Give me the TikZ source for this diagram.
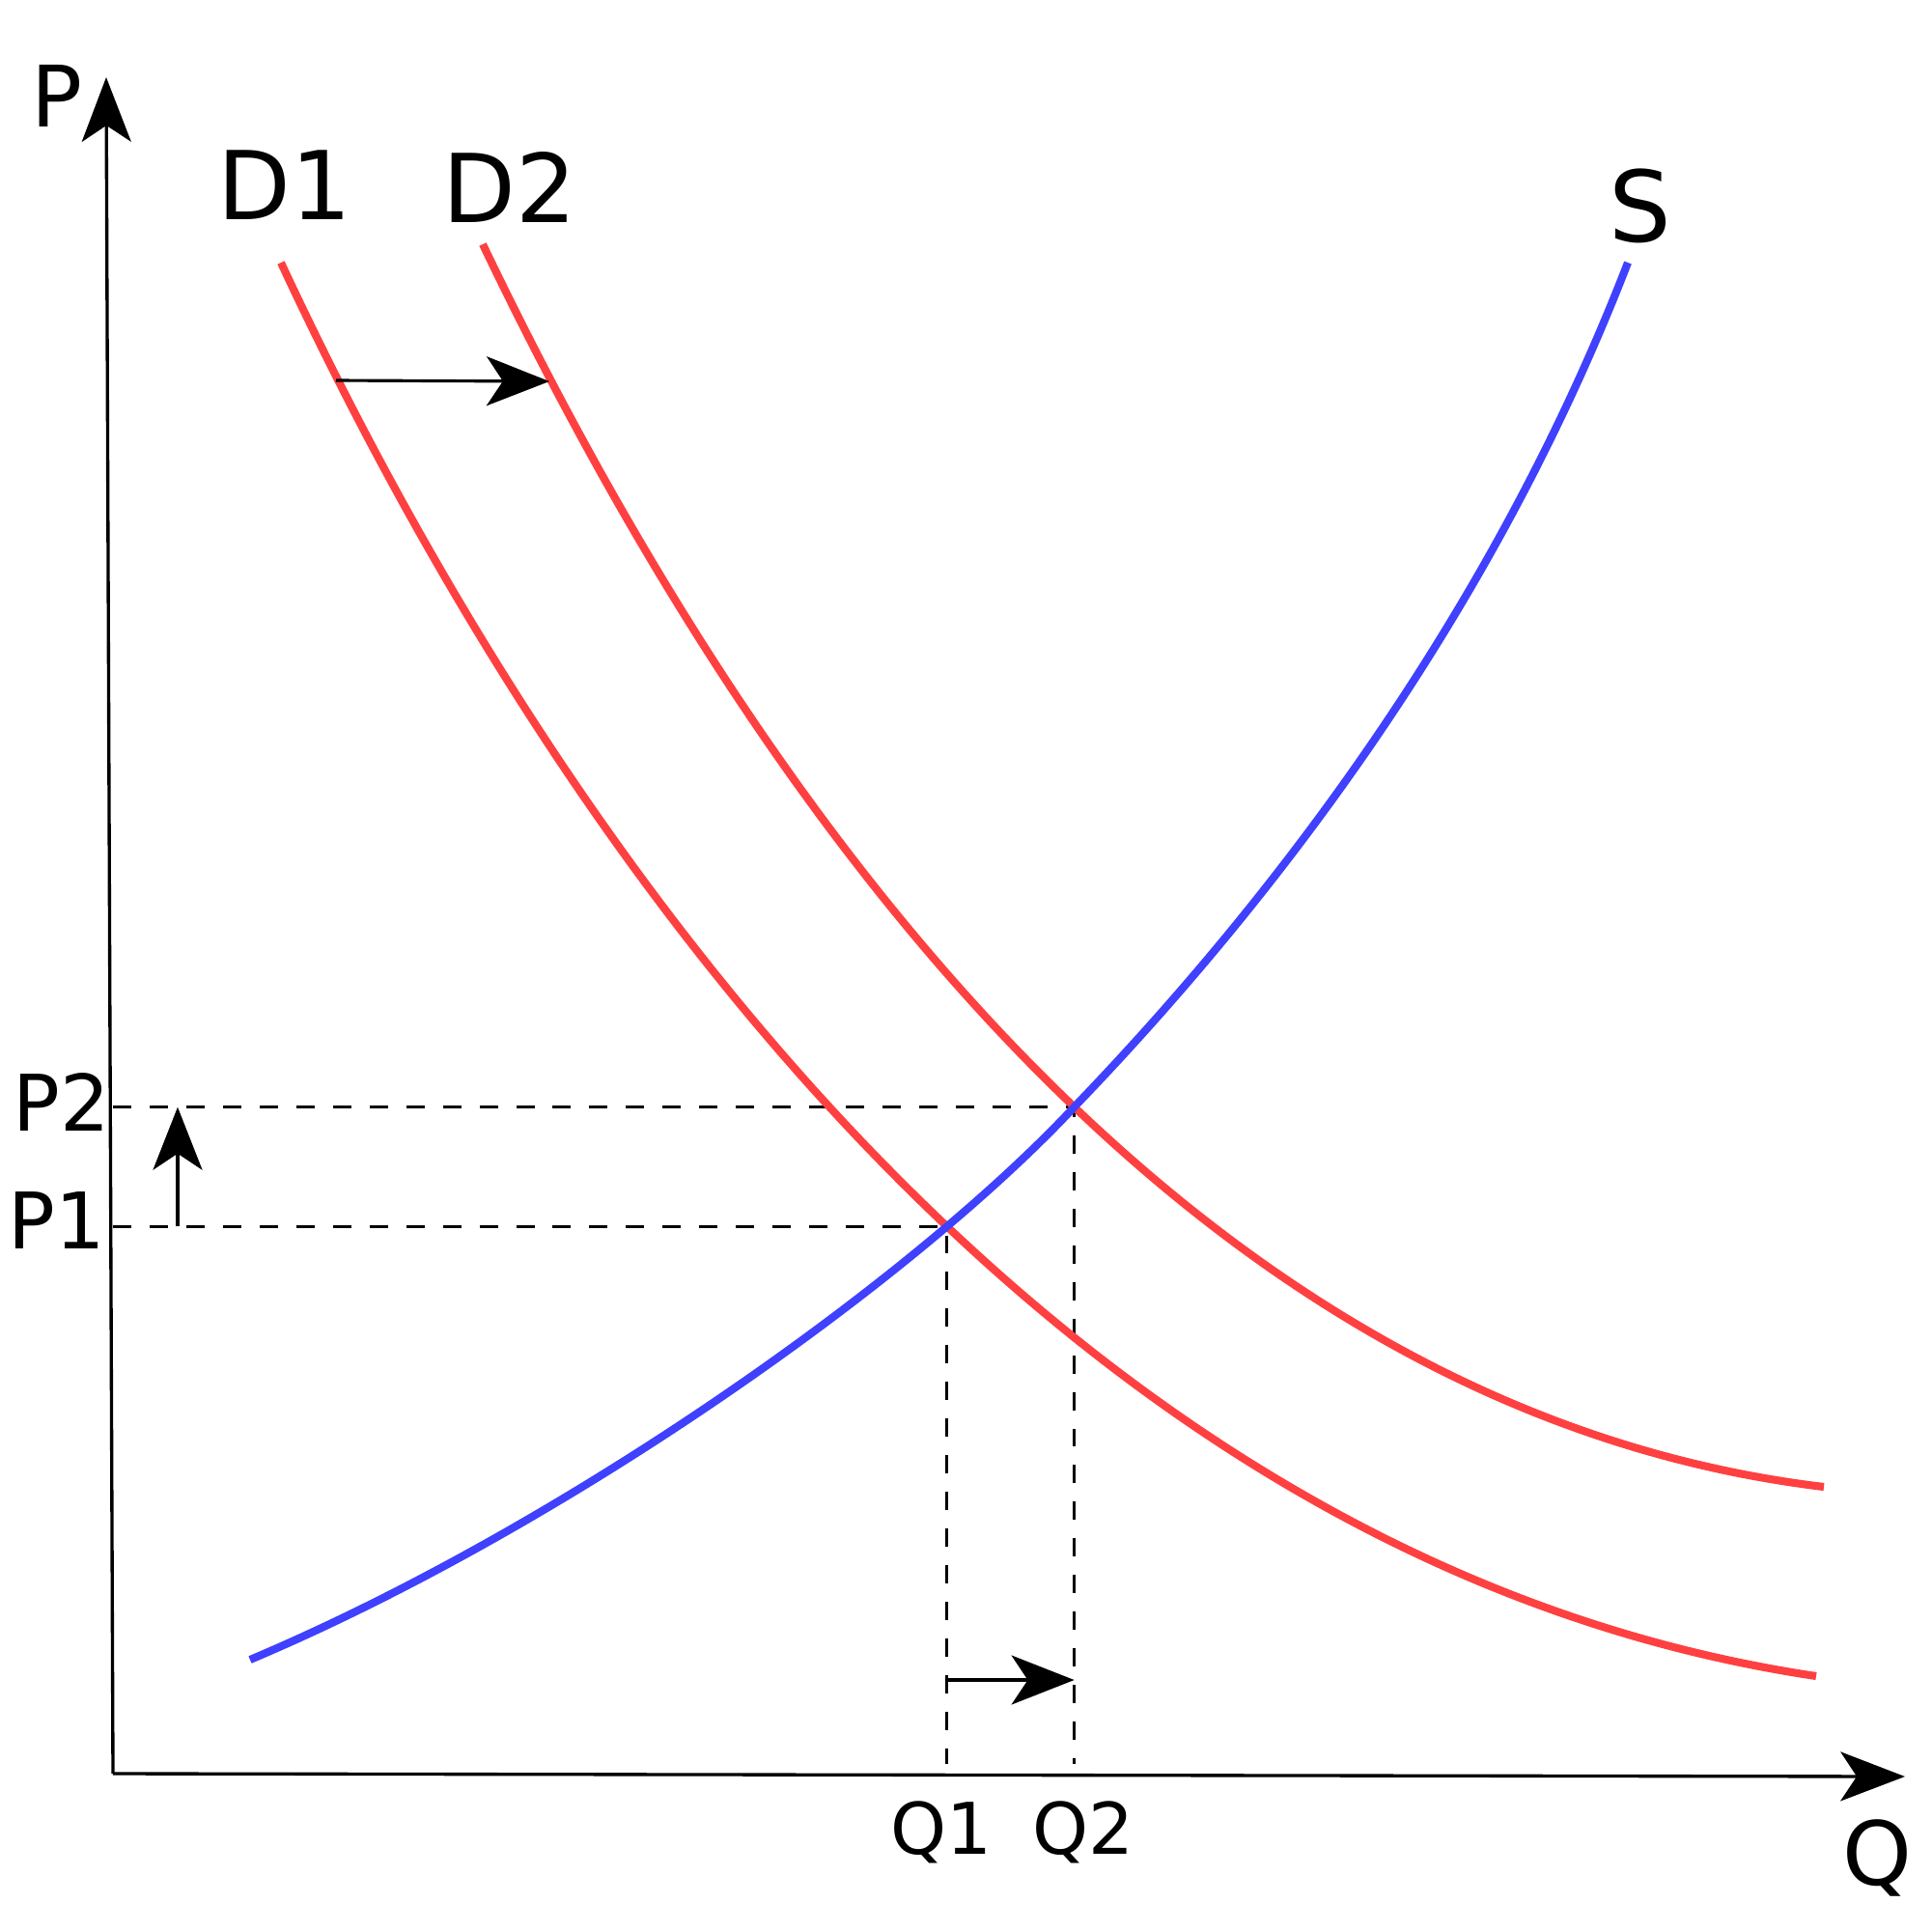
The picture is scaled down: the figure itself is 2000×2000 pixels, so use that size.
\documentclass[tikz,border=0pt]{standalone}
\usepackage{fontspec}
\setmainfont{DejaVu Sans}
\usetikzlibrary{arrows.meta, intersections, backgrounds}
\definecolor{cred}{HTML}{FF4040}
\definecolor{cblue}{HTML}{4040FF}
\tikzset{
  every picture/.style={line width=0.85pt},
  axis/.style={-{Stealth[length=19pt, width=14.5pt, inset=4.8pt]}, line width=0.95pt},
  shiftarrow/.style={-{Stealth[length=18.5pt, width=14.5pt, inset=4.8pt]}, line width=0.9pt},
  demand/.style={draw=cred, line width=2.3pt},
  supply/.style={draw=cblue, line width=2.3pt},
  guide/.style={dash pattern=on 5.4pt off 5.4pt, line width=0.8pt},
  lbl/.style={anchor=base, inner sep=0pt, font=\fontsize{#1}{#1}\selectfont},
  lbl/.default=28,
}

\begin{document}
\begin{tikzpicture}[x=0.1mm, y=-0.1mm]
  \useasboundingbox (0,0) rectangle (2000,2000);
  % axes
  \coordinate (O) at (117,1837);
  \coordinate (Ptop) at (110,80);
  \coordinate (Qend) at (1973,1840);
  \draw[axis] (O) -- (Ptop);
  \draw[axis] (O) -- (Qend);
  \node[lbl=25] (lP) at (59,131) {P};
  \node[lbl=26] (lQ) at (1944,1952) {Q};
  % curves
  \draw[demand, name path=d1] (291,272) .. controls (608,952) and (1139,1625) .. (1881,1736);
  \draw[demand, name path=d2] (500,253) .. controls (785,848) and (1234,1461) .. (1889,1540);
  \draw[supply, name path=s] (259,1719) .. controls (581,1583) and (945,1327) .. (1115,1144)
    .. controls (1357,892) and (1560,598) .. (1686,272);
  \node[lbl] (lD1) at (295,227) {D1};
  \node[lbl] (lD2) at (528,230) {D2};
  \node[lbl=29] (lS) at (1699,250) {S};
  % equilibria
  \path[name intersections={of=d1 and s, by=E1}];
  \path[name intersections={of=d2 and s, by=E2}];
  \coordinate (qstop) at (0,1827);
  \begin{scope}[on background layer]
    \draw[guide] (O |- E1) -- (E1) -- (E1 |- qstop);
    \draw[guide] (O |- E2) -- (E2) -- (E2 |- qstop);
  \end{scope}
  \node[lbl=23] (lP1) at (59,1293) {P1};
  \node[lbl=23] (lP2) at (64,1171) {P2};
  \node[lbl=21] (lQ1) at (975,1920) {Q1};
  \node[lbl=21] (lQ2) at (1122,1920) {Q2};
  % shifts
  \coordinate (a1) at (348,394);
  \coordinate (a2) at (569,395);
  \coordinate (pa) at (184,0);
  \coordinate (qa) at (0,1740);
  \draw[shiftarrow] (a1) -- (a2);
  \draw[shiftarrow] (E1 -| pa) -- (E2 -| pa);
  \draw[shiftarrow] (E1 |- qa) -- (E2 |- qa);
\end{tikzpicture}
\end{document}
